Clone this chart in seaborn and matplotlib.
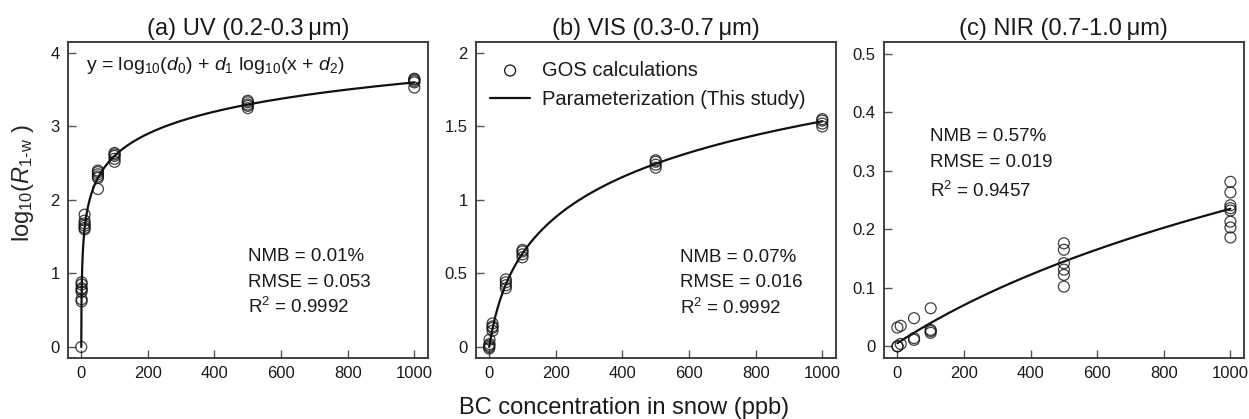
import numpy as np
import pandas as pd
import matplotlib
matplotlib.use("Agg")
import matplotlib.pyplot as plt
import seaborn as sns

# BC concentration in snow (ppb) and log10(R_1-w) from GOS calculations
uv_x = [0, 1, 1, 1, 1, 1, 1, 1, 10, 10, 10, 10, 10, 10, 50, 50, 50, 50, 50, 50,
        100, 100, 100, 100, 100, 500, 500, 500, 500, 500, 1000, 1000, 1000, 1000, 1000]
uv_y = [0.0, 0.62, 0.65, 0.75, 0.78, 0.80, 0.85, 0.88, 1.60, 1.62, 1.65, 1.68, 1.72, 1.80,
        2.15, 2.30, 2.32, 2.35, 2.38, 2.40, 2.52, 2.56, 2.60, 2.62, 2.64,
        3.25, 3.28, 3.30, 3.33, 3.35, 3.53, 3.60, 3.62, 3.64, 3.65]

vis_x = [0, 0, 0, 1, 1, 10, 10, 10, 10, 50, 50, 50, 50, 100, 100, 100, 100,
         500, 500, 500, 500, 1000, 1000, 1000, 1000]
vis_y = [-0.01, 0.0, 0.01, 0.02, 0.05, 0.11, 0.13, 0.14, 0.16, 0.40, 0.42, 0.44, 0.46,
         0.61, 0.63, 0.65, 0.66, 1.22, 1.24, 1.26, 1.27, 1.50, 1.52, 1.54, 1.55]

nir_x = [0, 0, 1, 10, 10, 50, 50, 50, 100, 100, 100, 100,
         500, 500, 500, 500, 500, 500, 1000, 1000, 1000, 1000, 1000, 1000, 1000, 1000]
nir_y = [0.0, 0.032, 0.0, 0.004, 0.035, 0.011, 0.014, 0.048, 0.023, 0.026, 0.028, 0.065,
         0.102, 0.122, 0.131, 0.142, 0.165, 0.176,
         0.186, 0.203, 0.213, 0.232, 0.236, 0.241, 0.263, 0.281]

# Parameterization y = log10(d0) + d1 log10(x + d2): [d0, d1, d2]
uv_params = [3.98, 1.0, 0.25]
vis_params = [0.0333, 1.0, 30.0]
nir_params = [0.0204, 0.596, 700.0]

titles = ["(a) UV (0.2-0.3\u2009μm)", "(b) VIS (0.3-0.7\u2009μm)", "(c) NIR (0.7-1.0\u2009μm)"]
stats = [["NMB = 0.01%", "RMSE = 0.053", "R$^2$ = 0.9992"],
         ["NMB = 0.07%", "RMSE = 0.016", "R$^2$ = 0.9992"],
         ["NMB = 0.57%", "RMSE = 0.019", "R$^2$ = 0.9457"]]
y_limits = [(-0.15, 4.15), (-0.075, 2.075), (-0.02, 0.52)]
y_ticks = [[0, 1, 2, 3, 4], [0, 0.5, 1, 1.5, 2], [0, 0.1, 0.2, 0.3, 0.4, 0.5]]
y_ticklabels = [["0", "1", "2", "3", "4"], ["0", "0.5", "1", "1.5", "2"],
                ["0", "0.1", "0.2", "0.3", "0.4", "0.5"]]
x_ticks = [0, 200, 400, 600, 800, 1000]

sns.set_theme(style="ticks")
plt.rcParams["font.family"] = ["Liberation Sans", "DejaVu Sans"]
plt.rcParams["mathtext.fontset"] = "custom"
plt.rcParams["mathtext.rm"] = "Liberation Sans"
plt.rcParams["mathtext.it"] = "Liberation Sans:italic"
plt.rcParams["mathtext.sf"] = "Liberation Sans"
plt.rcParams["axes.edgecolor"] = "#333333"
plt.rcParams["axes.linewidth"] = 1.3
plt.rcParams["text.color"] = "#1a1a1a"

fig = plt.figure(figsize=(12.49, 4.19), dpi=100)
lefts = [0.0544, 0.381, 0.7078]
axes = [fig.add_axes([l, 0.1456, 0.288, 0.7542]) for l in lefts]

xs = [uv_x, vis_x, nir_x]
ys = [uv_y, vis_y, nir_y]
params = [uv_params, vis_params, nir_params]
stat_pos = [(0.50, [0.32, 0.24, 0.16]), (0.567, [0.317, 0.238, 0.159]),
            (0.127, [0.70, 0.618, 0.528])]

x_curve = np.concatenate([[0.0], np.geomspace(0.01, 1000, 500)])

for i, ax in enumerate(axes):
    pts = pd.DataFrame({"x": xs[i], "y": ys[i]})
    d0, d1, d2 = params[i]
    curve = pd.DataFrame({"x": x_curve, "y": np.log10(d0) + d1 * np.log10(x_curve + d2)})
    sns.lineplot(data=curve, x="x", y="y", ax=ax, color="#111111", lw=1.6,
                 label="Parameterization (This study)", zorder=3, sort=False)
    sns.scatterplot(data=pts, x="x", y="y", ax=ax, marker="o", s=62,
                    facecolor="none", edgecolor="#111111", linewidth=0.9, alpha=0.8,
                    label="GOS calculations", zorder=4)
    ax.set_xlim(-40, 1040)
    ax.set_ylim(*y_limits[i])
    ax.set_xticks(x_ticks)
    ax.set_xticklabels([str(t) for t in x_ticks])
    ax.set_yticks(y_ticks[i])
    ax.set_yticklabels(y_ticklabels[i])
    ax.tick_params(direction="in", length=6, width=1.0, color="#555555",
                   labelsize=12, labelcolor="#1a1a1a", pad=6)
    for s in ax.spines.values():
        s.set_visible(True)
    ax.set_xlabel("")
    ax.set_ylabel("")
    ax.set_title(titles[i], fontsize=17, pad=5)
    sx, sy = stat_pos[i]
    for line, yy in zip(stats[i], sy):
        ax.text(sx, yy, line, transform=ax.transAxes, fontsize=13.5, ha="left", va="center")
    if i == 1:
        h, lab = ax.get_legend_handles_labels()
        order = [lab.index("GOS calculations"), lab.index("Parameterization (This study)")]
        ax.legend([h[k] for k in order], [lab[k] for k in order], loc="upper left",
                  frameon=False, fontsize=14.5, handlelength=2.0, handletextpad=0.6,
                  borderaxespad=0.3, labelspacing=0.5, bbox_to_anchor=(0.0, 0.985))
        for lh in ax.get_legend().legend_handles:
            if hasattr(lh, "set_alpha"):
                lh.set_alpha(1.0)
    else:
        if ax.get_legend() is not None:
            ax.get_legend().remove()

axes[0].text(0.05, 0.927, "y = log$_{10}$($d_0$) + $d_1$ log$_{10}$(x + $d_2$)",
             transform=axes[0].transAxes, fontsize=14, ha="left", va="center")
axes[0].set_ylabel("log$_{10}$($R_{\\mathrm{1\\text{-}w}}$ )", fontsize=17)
axes[0].yaxis.set_label_coords(-0.09, 0.554)

fig.text(0.5, 0.026, "BC concentration in snow (ppb)", fontsize=17, ha="center", va="center")

fig.savefig("out.png", dpi=100)
